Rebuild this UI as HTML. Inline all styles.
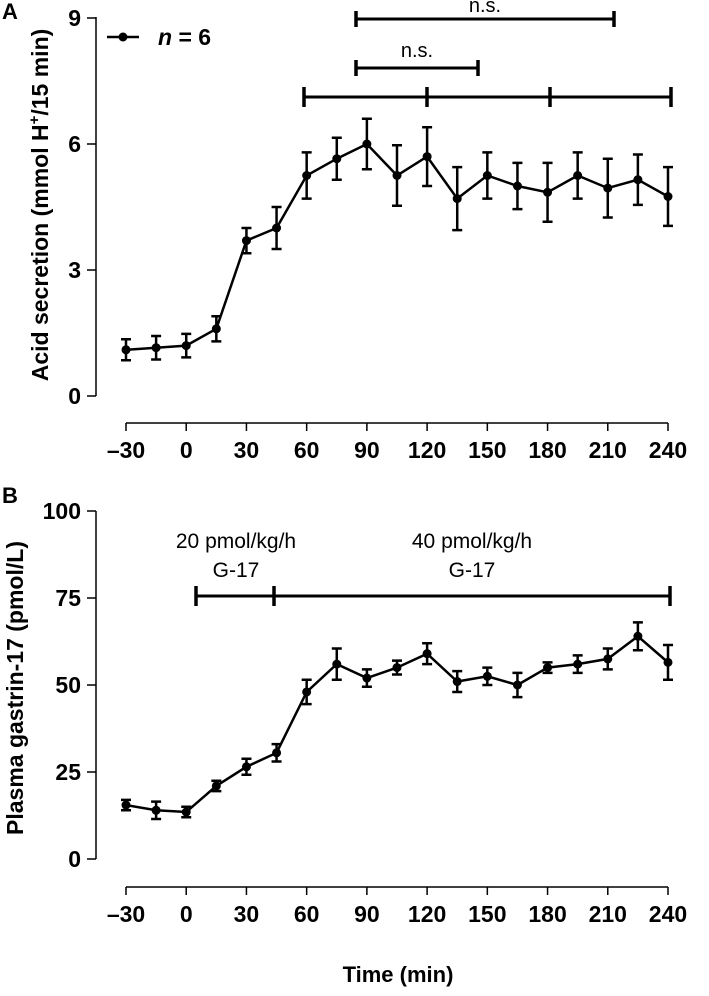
<!DOCTYPE html>
<html><head><meta charset="utf-8"><style>
body{margin:0;background:#fff}
svg{display:block;font-family:"Liberation Sans",Arial,sans-serif}
</style></head><body>
<svg id="c" width="709" height="996" viewBox="0 0 709 996"></svg>
<script>
const times=[-30,-15,0,15,30,45,60,75,90,105,120,135,150,165,180,195,210,225,240];
const acidVals=[1.1,1.15,1.2,1.6,3.7,4.0,5.25,5.65,6.0,5.25,5.7,4.7,5.25,5.0,4.85,5.25,4.95,5.15,4.75];
const acidErr=[0.25,0.28,0.28,0.3,0.3,0.5,0.55,0.5,0.6,0.72,0.7,0.75,0.55,0.55,0.7,0.55,0.7,0.6,0.7];
const gasVals=[15.5,14,13.5,21,26.5,30.5,48,56,52,55,59,51,52.5,50,55,56,57.5,64,56.5];
const gasErr=[1.5,2.5,1.5,1.5,2.3,2.5,3.5,4.5,2.5,2,3,3,2.5,3.5,1.5,2.5,3,4,5];
const xTicks=[-30,0,30,60,90,120,150,180,210,240];
const acidTicks=[0,3,6,9];
const gasTicks=[0,25,50,75,100];
const NS="http://www.w3.org/2000/svg";
const svg=document.getElementById('c');
function el(t,a,p){const e=document.createElementNS(NS,t);for(const k in a)e.setAttribute(k,a[k]);(p||svg).appendChild(e);return e;}
function xs(t){return 126+(t+30)*2.0074;}
function yA(v){return 396-42*v;}
function yB(v){return 859-3.48*v;}
function panel(name,yf,ticks,vals,errs,axisY,labelY,yTop,yBot,title,titleX,titleY){
  const g=el('g',{});
  
  
  const ya=el('line',{x1:96,y1:yTop,x2:96,y2:yBot,stroke:'#000','stroke-width':1.5},g);
  
  ticks.forEach(v=>{
    el('line',{x1:87,y1:yf(v),x2:96,y2:yf(v),stroke:'#000','stroke-width':1.5},g);
    const t=el('text',{x:81,y:yf(v)+8,'text-anchor':'end','font-size':23,'font-weight':'bold'},g);
    t.textContent=v;
    
  });
  const xa=el('line',{x1:xs(-30),y1:axisY,x2:xs(240),y2:axisY,stroke:'#000','stroke-width':1.5},g);
  
  xTicks.forEach(v=>{
    el('line',{x1:xs(v),y1:axisY,x2:xs(v),y2:axisY+8,stroke:'#000','stroke-width':1.5},g);
    const t=el('text',{x:xs(v),y:labelY,'text-anchor':'middle','font-size':23,'font-weight':'bold'},g);
    t.textContent=v<0?'\u2013'+(-v):v;
    
  });
  const yt=el('text',{transform:`translate(${titleX},${titleY}) rotate(-90)`,'text-anchor':'middle','font-size':23,'font-weight':'bold'},g);
  yt.innerHTML=title;
  
  const pts=times.map((t,i)=>xs(t)+','+yf(vals[i])).join(' ');
  const ln=el('polyline',{points:pts,fill:'none',stroke:'#000','stroke-width':2.5},g);
  
  times.forEach((t,i)=>{
    const x=xs(t),y1=yf(vals[i]+errs[i]),y2=yf(vals[i]-errs[i]);
    const e=el('path',{d:`M${x},${y1}V${y2}M${x-5},${y1}H${x+5}M${x-5},${y2}H${x+5}`,stroke:'#000','stroke-width':2.5,fill:'none'},g);
    
    const c=el('circle',{cx:x,cy:yf(vals[i]),r:4.5,fill:'#000'},g);
    
  });
}
panel('panel-a-acid',yA,acidTicks,acidVals,acidErr,423,458,17,396,'Acid secretion (mmol H<tspan dy="-9" font-size="15">+</tspan><tspan dy="9">/15 min)</tspan>',48,205);
panel('panel-b-gastrin',yB,gasTicks,gasVals,gasErr,887,922,511,859,'Plasma gastrin-17 (pmol/L)',23,688);
function label(txt,x,y,name,extra){const t=el('text',Object.assign({x:x,y:y,'font-size':22,'font-weight':'bold'},extra||{}));t.textContent=txt;return t;}
label('A',2,19,'panel-a-label');
label('B',2,503,'panel-b-label');
const lg=el('g',{});
el('line',{x1:107,y1:37,x2:139,y2:37,stroke:'#000','stroke-width':2.5},lg);
el('circle',{cx:123,cy:37,r:4.5,fill:'#000'},lg);
const lt=el('text',{x:158,y:45,'font-size':23,'font-weight':'bold'},lg);lt.innerHTML='<tspan font-style="italic">n</tspan> = 6';
function bracket(x1,x2,y,marks,name,h){
  const g=el('g',{});
  el('line',{x1:x1,y1:y,x2:x2,y2:y,stroke:'#000','stroke-width':3},g);
  marks.forEach(m=>el('line',{x1:m,y1:y-h,x2:m,y2:y+h,stroke:'#000','stroke-width':3.5},g));
}
bracket(356,614,19,[356,614],'ns-bracket-long',8);
label('n.s.',485,12,'ns-label-long',{'text-anchor':'middle','font-weight':'normal','font-size':20});
bracket(356,478,68,[356,478],'ns-bracket-short',8);
label('n.s.',417,57,'ns-label-short',{'text-anchor':'middle','font-weight':'normal','font-size':20});
bracket(304,671,97,[304,427,550,671],'period-bracket',10);
bracket(196,670,596,[196,274,670],'infusion-bracket',10);
label('20 pmol/kg/h',236,548,'dose-label-20',{'text-anchor':'middle','font-weight':'normal','font-size':21});
label('G-17',236,577,'dose-label-20-g17',{'text-anchor':'middle','font-weight':'normal','font-size':21});
label('40 pmol/kg/h',472,548,'dose-label-40',{'text-anchor':'middle','font-weight':'normal','font-size':21});
label('G-17',472,577,'dose-label-40-g17',{'text-anchor':'middle','font-weight':'normal','font-size':21});
label('Time (min)',398,982,'x-axis-title',{'text-anchor':'middle','font-size':22});
</script>
</body></html>
